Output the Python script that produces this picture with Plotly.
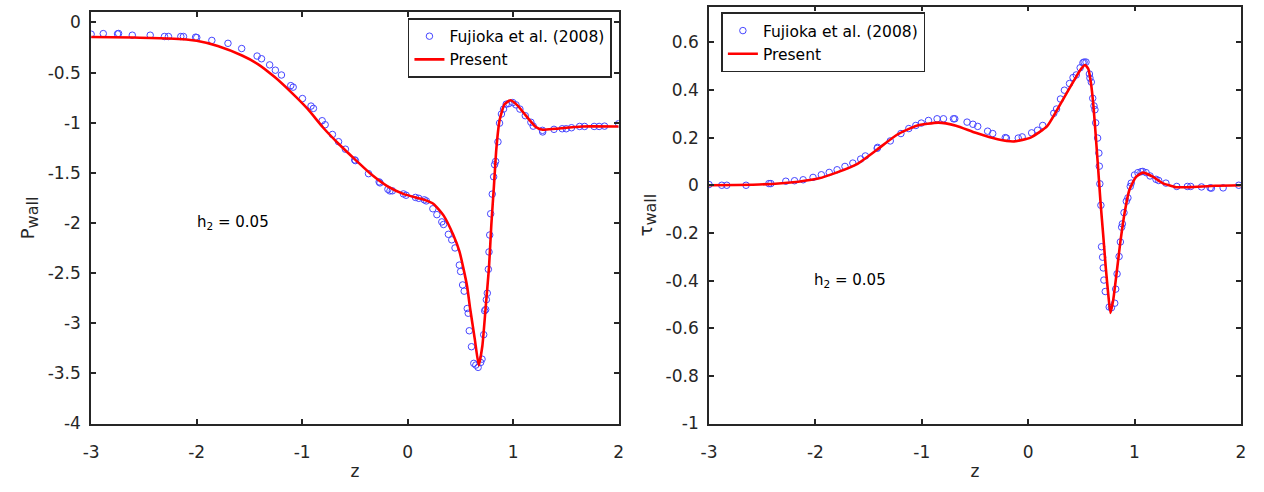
import plotly.graph_objects as go

# ---------------- data ----------------
# Left panel: wall pressure
p_present_z = [-3.0, -2.6, -2.26, -2.0, -1.8, -1.57, -1.42, -1.26, -1.11, -0.95, -0.80, -0.65,
               -0.49, -0.34, -0.19, -0.036, 0.152, 0.246, 0.34, 0.433, 0.49, 0.527, 0.565,
               0.59, 0.637, 0.674, 0.708, 0.74, 0.771, 0.793, 0.818, 0.84, 0.871, 0.918,
               0.975, 1.043, 1.121, 1.215, 1.278, 1.40, 1.653, 2.0]
p_present = [-0.145, -0.150, -0.160, -0.182, -0.235, -0.33, -0.415, -0.545, -0.69, -0.86,
             -1.05, -1.215, -1.375, -1.52, -1.635, -1.712, -1.767, -1.81, -1.924, -2.12,
             -2.28, -2.445, -2.64, -2.836, -3.163, -3.42, -3.227, -2.836, -2.445, -2.02,
             -1.63, -1.27, -0.978, -0.816, -0.776, -0.83, -0.93, -1.043, -1.07, -1.06,
             -1.037, -1.038]

p_fujioka_z = [-3.0, -2.885, -2.75, -2.74, -2.61, -2.44, -2.305, -2.267, -2.15, -2.125, -2.01,
               -1.999, -1.856, -1.703, -1.573, -1.427, -1.385, -1.308, -1.254, -1.196, -1.108,
               -1.085, -0.997, -0.916, -0.893, -0.81, -0.782, -0.713, -0.655, -0.59, -0.502,
               -0.495, -0.371, -0.27, -0.262, -0.187, -0.168, -0.145, -0.04, -0.015, 0.074,
               0.105, 0.158, 0.177, 0.239, 0.277, 0.324, 0.34, 0.386, 0.418, 0.449, 0.49,
               0.502, 0.521, 0.536, 0.565, 0.574, 0.584, 0.605, 0.627, 0.646, 0.668, 0.692,
               0.705, 0.721, 0.73, 0.74, 0.746, 0.755, 0.765, 0.771, 0.778, 0.787, 0.802,
               0.815, 0.824, 0.834, 0.856, 0.871, 0.889, 0.909, 0.934, 0.959, 0.996, 1.027,
               1.064, 1.115, 1.168, 1.19, 1.278, 1.28, 1.387, 1.465, 1.503, 1.553, 1.63,
               1.677, 1.768, 1.815, 1.866, 2.0]
p_fujioka = [-0.117, -0.111, -0.114, -0.110, -0.127, -0.127, -0.14, -0.14, -0.14, -0.14, -0.147,
             -0.15, -0.179, -0.208, -0.26, -0.335, -0.362, -0.423, -0.476, -0.524, -0.63,
             -0.645, -0.759, -0.834, -0.857, -0.98, -1.02, -1.117, -1.189, -1.264, -1.371,
             -1.378, -1.508, -1.59, -1.6, -1.664, -1.68, -1.679, -1.71, -1.723, -1.745,
             -1.754, -1.769, -1.78, -1.858, -1.917, -1.989, -2.015, -2.113, -2.168, -2.249,
             -2.42, -2.484, -2.618, -2.68, -2.853, -2.9, -3.075, -3.234, -3.40, -3.417,
             -3.44, -3.391, -3.358, -3.114, -2.875, -2.863, -2.765, -2.7, -2.462, -2.289,
             -2.12, -1.908, -1.712, -1.539, -1.418, -1.386, -1.19, -1.004, -0.913, -0.864,
             -0.815, -0.809, -0.799, -0.822, -0.864, -0.93, -0.995, -1.034, -1.076, -1.092,
             -1.066, -1.06, -1.06, -1.05, -1.037, -1.037, -1.037, -1.037, -1.034, -1.01]

# Right panel: wall shear stress
t_present_z = [-3.0, -2.53, -2.16, -1.974, -1.79, -1.604, -1.419, -1.233, -1.048, -0.844,
               -0.678, -0.493, -0.287, -0.131, 0.023, 0.179, 0.334, 0.458, 0.5, 0.535, 0.566,
               0.59, 0.613, 0.637, 0.659, 0.681, 0.706, 0.73, 0.753, 0.774, 0.799, 0.83, 0.867,
               0.907, 0.953, 1.016, 1.078, 1.171, 1.264, 1.388, 1.512, 1.76, 2.0]
t_present = [0.0, 0.003, 0.015, 0.028, 0.055, 0.09, 0.15, 0.212, 0.25, 0.263, 0.25, 0.22,
             0.193, 0.184, 0.2, 0.248, 0.365, 0.46, 0.49, 0.505, 0.488, 0.43, 0.337, 0.2,
             0.064, -0.074, -0.21, -0.347, -0.457, -0.536, -0.484, -0.375, -0.238, -0.115,
             -0.018, 0.036, 0.053, 0.036, 0.009, -0.008, -0.008, -0.002, 0.0]

t_fujioka_z = [-3.0, -2.88, -2.833, -2.652, -2.437, -2.419, -2.278, -2.196, -2.115, -2.022,
               -1.944, -1.87, -1.796, -1.722, -1.648, -1.574, -1.53, -1.419, -1.415, -1.296,
               -1.196, -1.122, -1.056, -1.004, -0.937, -0.856, -0.796, -0.702, -0.69, -0.574,
               -0.519, -0.474, -0.381, -0.333, -0.215, -0.204, -0.093, -0.056, 0.033, 0.089,
               0.137, 0.241, 0.267, 0.304, 0.341, 0.389, 0.422, 0.452, 0.489, 0.515, 0.526,
               0.544, 0.576, 0.581, 0.594, 0.607, 0.619, 0.628, 0.635, 0.653, 0.665, 0.669,
               0.674, 0.684, 0.69, 0.7, 0.706, 0.712, 0.725, 0.762, 0.783, 0.814, 0.823,
               0.836, 0.855, 0.867, 0.879, 0.886, 0.901, 0.923, 0.938, 0.96, 0.969, 1.0,
               1.032, 1.062, 1.078, 1.109, 1.146, 1.202, 1.227, 1.295, 1.397, 1.497, 1.528,
               1.63, 1.711, 1.723, 1.833, 1.98]
t_fujioka = [0.003, 0.0, 0.0, 0.0, 0.007, 0.007, 0.017, 0.019, 0.023, 0.033, 0.044, 0.054,
             0.065, 0.079, 0.093, 0.11, 0.123, 0.155, 0.159, 0.186, 0.217, 0.238, 0.251,
             0.261, 0.272, 0.279, 0.279, 0.279, 0.279, 0.265, 0.256, 0.247, 0.227, 0.217,
             0.2, 0.198, 0.198, 0.203, 0.22, 0.231, 0.251, 0.302, 0.32, 0.362, 0.399, 0.427,
             0.452, 0.463, 0.493, 0.514, 0.517, 0.517, 0.467, 0.45, 0.433, 0.365, 0.333,
             0.317, 0.262, 0.198, 0.135, 0.08, 0.006, -0.084, -0.258, -0.302, -0.347, -0.398,
             -0.446, -0.511, -0.514, -0.495, -0.436, -0.372, -0.299, -0.238, -0.176, -0.162,
             -0.115, -0.067, -0.053, -0.005, 0.009, 0.043, 0.053, 0.057, 0.058, 0.053, 0.039,
             0.025, 0.02, 0.009, -0.005, -0.005, -0.005, -0.007, -0.011, -0.012, -0.011, 0.0]

x_ticks = [-3, -2, -1, 0, 1, 2]
x_ticktext = ["-3", "-2", "-1", "0", "1", "2"]
p_ticks = [0, -0.5, -1, -1.5, -2, -2.5, -3, -3.5, -4]
p_ticktext = ["0", "-0.5", "-1", "-1.5", "-2", "-2.5", "-3", "-3.5", "-4"]
t_ticks = [0.6, 0.4, 0.2, 0, -0.2, -0.4, -0.6, -0.8, -1]
t_ticktext = ["0.6", "0.4", "0.2", "0", "-0.2", "-0.4", "-0.6", "-0.8", "-1"]

# ---------------- figure ----------------
W, H = 1264, 492
FONT = "DejaVu Sans, Liberation Sans, Arial, sans-serif"
AX = "#262626"
BLUE = "rgb(70,70,255)"
RED = "rgb(255,0,0)"

fig = go.Figure()

marker = dict(symbol="circle-open", size=6.5, color=BLUE, line=dict(width=1, color=BLUE))

fig.add_trace(go.Scatter(x=p_fujioka_z, y=p_fujioka, mode="markers", marker=marker,
                         name="Fujioka et al. (2008)", xaxis="x", yaxis="y", legend="legend"))
fig.add_trace(go.Scatter(x=p_present_z, y=p_present, mode="lines",
                         line=dict(color=RED, width=2.6, shape="spline", smoothing=0.5),
                         name="Present", xaxis="x", yaxis="y", legend="legend"))
fig.add_trace(go.Scatter(x=t_fujioka_z, y=t_fujioka, mode="markers", marker=marker,
                         name="Fujioka et al. (2008)", xaxis="x2", yaxis="y2", legend="legend2"))
fig.add_trace(go.Scatter(x=t_present_z, y=t_present, mode="lines",
                         line=dict(color=RED, width=2.6, shape="spline", smoothing=0.5),
                         name="Present", xaxis="x2", yaxis="y2", legend="legend2"))

def xa(domain, anchor):
    return dict(domain=domain, anchor=anchor, range=[-3, 2], tickvals=x_ticks, ticktext=x_ticktext,
                ticks="inside", ticklen=5, tickwidth=1.5, tickcolor=AX, showline=True,
                linecolor=AX, linewidth=1.8, mirror="ticks", showgrid=False, zeroline=False,
                tickfont=dict(size=17, color=AX, family=FONT), ticklabelstandoff=12,
                title=dict(text="z", font=dict(size=17, color=AX, family=FONT), standoff=4))

def ya(domain, anchor, rng, tv, tt, title):
    return dict(domain=domain, anchor=anchor, range=rng, tickvals=tv, ticktext=tt,
                ticks="inside", ticklen=5, tickwidth=1.5, tickcolor=AX, showline=True,
                linecolor=AX, linewidth=1.8, mirror="ticks", showgrid=False, zeroline=False,
                tickfont=dict(size=17, color=AX, family=FONT), ticklabelstandoff=5,
                title=dict(text=title, font=dict(size=18, color=AX, family=FONT), standoff=8))

fig.update_layout(
    width=W, height=H, margin=dict(l=0, r=0, t=0, b=0),
    paper_bgcolor="white", plot_bgcolor="white",
    font=dict(family=FONT, color=AX),
    xaxis=xa([84 / W, 617 / W], "y"),
    yaxis=ya([1 - 432.3 / H, 1 - 12.7 / H], "x", [-4, 0.1], p_ticks, p_ticktext,
             "P<sub><span style='font-size:16px'>wall</span></sub>"),
    xaxis2=xa([708.3 / W, 1245.7 / W], "y2"),
    yaxis2=ya([1 - 432.3 / H, 1 - 6.7 / H], "x2", [-1, 0.75], t_ticks, t_ticktext,
              "τ<sub><span style='font-size:16px'>wall</span></sub>"),
    legend=dict(x=404 / W, y=1 - 49 / H, xanchor="left", yanchor="middle",
                bgcolor="white", bordercolor=AX, borderwidth=1.6,
                font=dict(size=15.5, color="black", family=FONT), tracegroupgap=0,
                itemwidth=30),
    legend2=dict(x=720.7 / W, y=1 - 43.3 / H, xanchor="left", yanchor="middle",
                 bgcolor="white", bordercolor=AX, borderwidth=1.6,
                 font=dict(size=15.5, color="black", family=FONT), tracegroupgap=0,
                 itemwidth=30),
    showlegend=True,
)

fig.add_annotation(x=-1.66, y=-2.0, xref="x", yref="y", text="h<sub>2</sub> = 0.05",
                   showarrow=False, font=dict(size=15, color="black", family=FONT))
fig.add_annotation(x=-1.67, y=-0.4, xref="x2", yref="y2", text="h<sub>2</sub> = 0.05",
                   showarrow=False, font=dict(size=15, color="black", family=FONT))

fig.write_html("out.html")
